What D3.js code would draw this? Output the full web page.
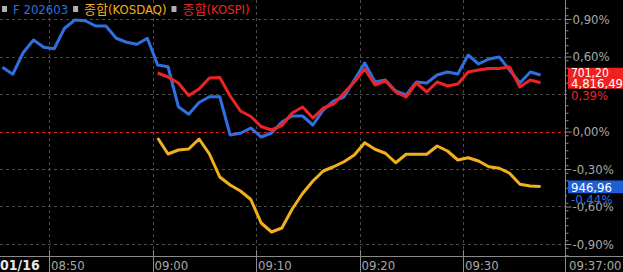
<!DOCTYPE html>
<html><head><meta charset="utf-8">
<script src="https://cdn.jsdelivr.net/npm/d3@7"></script>
<style>
html,body{margin:0;padding:0;background:#000;}
svg{display:block;}
text{font-family:'Liberation Sans Narrow','DejaVu Sans Condensed','Noto Sans CJK KR',sans-serif;}
</style></head>
<body><svg id="c" width="623" height="272"></svg>
<script>
// ---- data (percent change) ----
const times = ["08:45","08:46","08:47","08:48","08:49","08:50","08:51","08:52","08:53","08:54",
"08:55","08:56","08:57","08:58","08:59","09:00","09:01","09:02","09:03","09:04",
"09:05","09:06","09:07","09:08","09:09","09:10","09:11","09:12","09:13","09:14",
"09:15","09:16","09:17","09:18","09:19","09:20","09:21","09:22","09:23","09:24",
"09:25","09:26","09:27","09:28","09:29","09:30","09:31","09:32","09:33","09:34",
"09:35","09:36","09:37"];
const futures = [0.514,0.458,0.630,0.732,0.674,0.662,0.826,0.892,0.886,0.844,
0.844,0.746,0.714,0.698,0.746,0.532,0.518,0.198,0.138,0.232,
0.278,0.278,-0.028,-0.014,0.028,-0.044,-0.012,0.076,0.124,0.124,
0.052,0.172,0.244,0.276,0.412,0.548,0.396,0.412,0.324,0.292,
0.396,0.388,0.452,0.476,0.460,0.612,0.540,0.580,0.596,0.492,
0.388,0.476,0.452];
const kospi = [null,null,null,null,null,null,null,null,null,null,
null,null,null,null,null,0.468,0.436,0.388,0.288,0.340,
0.428,0.432,0.284,0.164,0.120,0.040,0.012,0.048,0.148,0.196,
0.108,0.188,0.220,0.308,0.396,0.500,0.372,0.404,0.316,0.276,
0.388,0.316,0.396,0.364,0.380,0.476,0.492,0.504,0.504,0.516,
0.356,0.412,0.390];
const kosdaq = [null,null,null,null,null,null,null,null,null,null,
null,null,null,null,null,-0.052,-0.180,-0.148,-0.140,-0.060,
-0.180,-0.364,-0.428,-0.476,-0.544,-0.732,-0.804,-0.772,-0.620,-0.496,
-0.396,-0.316,-0.282,-0.242,-0.188,-0.090,-0.142,-0.174,-0.250,-0.182,
-0.182,-0.182,-0.116,-0.156,-0.228,-0.210,-0.236,-0.282,-0.294,-0.334,
-0.422,-0.436,-0.440];
const yTicks = [0.9,0.6,0.3,0,-0.3,-0.6,-0.9];
const yTickLabelsShown = [0.9,0.6,0,-0.3,-0.6,-0.9]; // 0.30% label is covered by the KOSPI % tag
const xTickLabels = ["08:50","09:00","09:10","09:20","09:30"];
const legendItems = [{name:"F 202603",c:"#2f6fe0"},{name:"종합(KOSDAQ)",c:"#f2b01c"},{name:"종합(KOSPI)",c:"#ee2424"}];
const lastFutures = "701,20", lastKospi = "4,816,49", lastKospiPct = "0,39%", lastKosdaq = "946,96", lastKosdaqPct = "-0,44%", lastTime = "09:37:00", dateLabel = "01/16";

// ---- scales ----
const parse = d3.timeParse("%H:%M");
const svg = d3.select("#c");
const axisX = 565, plotBottom = 256;
const x = d3.scaleTime().domain([parse("08:50"), parse("09:30")]).range([49, 463]);
const y = d3.scaleLinear().domain([-0.9, 0.9]).range([244, 19]);
const tx = t => x(new Date(parse(t).getTime() + 30000));
const loc = d3.formatLocale({decimal:",", thousands:".", grouping:[3], currency:["",""], minus:"-"});
const fmt = v => loc.format(".2f")(v) + "%";

// ---- grid ----
const grid = svg.append("g");
grid.selectAll("line.h").data(yTicks.filter(v => v !== 0)).join("line")
  .attr("x1", 0).attr("x2", axisX).attr("y1", d => Math.round(y(d)) + 0.5).attr("y2", d => Math.round(y(d)) + 0.5)
  .attr("stroke", "#4c4c4c").attr("stroke-dasharray", "3,3");
grid.selectAll("line.v").data(xTickLabels).join("line")
  .attr("x1", d => Math.round(x(parse(d))) + 0.5).attr("x2", d => Math.round(x(parse(d))) + 0.5)
  .attr("y1", 0).attr("y2", plotBottom)
  .attr("stroke", "#4c4c4c").attr("stroke-dasharray", "3,3");
grid.append("line").attr("x1", 0).attr("x2", axisX).attr("y1", Math.round(y(0)) + 0.5).attr("y2", Math.round(y(0)) + 0.5)
  .attr("stroke", "#d02020").attr("stroke-dasharray", "3,3");

// ---- lines ----
function drawLine(vals, color) {
  const pts = times.map((t, i) => ({t, v: vals[i]}));
  svg.append("path").datum(pts)
    .attr("fill", "none").attr("stroke", color).attr("stroke-width", 3).attr("stroke-linejoin", "round")
    .attr("d", d3.line().defined(d => d.v != null).x(d => tx(d.t)).y(d => y(d.v)));
}
drawLine(kosdaq, "#f2b01c");
drawLine(futures, "#2f6fe0");
drawLine(kospi, "#ee2424");

// ---- right axis ----
const yr = svg.append("g").attr("transform", `translate(${axisX + 0.5},0)`);
const minor = d3.range(-0.99, 1.0, 0.06).map(v => +v.toFixed(2));
yr.call(d3.axisRight(y).tickValues(minor).tickSize(3).tickFormat(""))
  .call(g => g.select(".domain").remove())
  .call(g => g.selectAll("line").attr("stroke", "#8a8a8a"));
const yr2 = svg.append("g").attr("transform", `translate(${axisX + 0.5},0)`);
yr2.call(d3.axisRight(y).tickValues(yTicks).tickSize(6).tickPadding(1).tickFormat(d => yTickLabelsShown.includes(d) ? fmt(d) : ""))
  .call(g => g.select(".domain").remove())
  .call(g => g.selectAll("line").attr("stroke", "#8a8a8a"))
  .call(g => g.selectAll("text").attr("fill", "#a8a8a8").attr("font-size", 13)
     .attr("font-family", "'Liberation Sans Narrow','DejaVu Sans Condensed',sans-serif"));
svg.append("line").attr("x1", axisX + 0.5).attr("x2", axisX + 0.5).attr("y1", 0).attr("y2", 272).attr("stroke", "#8a8a8a");

// ---- bottom axis ----
svg.append("line").attr("x1", 0).attr("x2", 623).attr("y1", plotBottom + 0.5).attr("y2", plotBottom + 0.5).attr("stroke", "#8a8a8a");
const xb = svg.append("g");
xb.selectAll("line").data(xTickLabels).join("line")
  .attr("x1", d => Math.round(x(parse(d))) + 0.5).attr("x2", d => Math.round(x(parse(d))) + 0.5)
  .attr("y1", 250).attr("y2", 272).attr("stroke", "#8a8a8a");
xb.selectAll("text").data(xTickLabels).join("text")
  .attr("x", d => x(parse(d)) + 2).attr("y", 270).attr("fill", "#a8a8a8").attr("font-size", 13).text(d => d);
svg.append("text").attr("x", axisX + 4).attr("y", 270).attr("fill", "#a8a8a8").attr("font-size", 13).text(lastTime);
svg.append("text").attr("x", 0).attr("y", 270).attr("fill", "#e8e8e8").attr("font-size", 14).attr("font-weight", "bold").text(dateLabel);

// ---- legend ----
const lg = svg.append("g");
let lx = 2;
legendItems.forEach(it => {
  lg.append("rect").attr("x", lx).attr("y", 6).attr("width", 5).attr("height", 6).attr("fill", "#b0b0b0");
  const t = lg.append("text").attr("x", lx + 11).attr("y", 14).attr("fill", it.c).attr("font-size", 13).text(it.name);
  lx += 11 + t.node().getComputedTextLength() + 5;
});

// ---- end labels ----
const lastV = kospi[kospi.length - 1];
const ky = y(lastV);
svg.append("rect").attr("x", axisX + 2).attr("y", ky + 6).attr("width", 56).attr("height", 13).attr("fill", "#000");
svg.append("text").attr("x", axisX + 6).attr("y", ky + 17).attr("fill", "#ee2424").attr("font-size", 13).text(lastKospiPct);
svg.append("clipPath").attr("id", "cb").append("rect").attr("x", axisX + 3).attr("y", ky - 15).attr("width", 60).attr("height", 21);
svg.append("rect").attr("x", axisX + 3).attr("y", ky - 15).attr("width", 60).attr("height", 21).attr("fill", "#ee2020");
svg.append("text").attr("clip-path", "url(#cb)").attr("x", axisX + 6).attr("y", ky - 6).attr("fill", "#fff").attr("font-size", 12).text(lastFutures);
svg.append("text").attr("x", axisX + 6).attr("y", ky + 5).attr("fill", "#fff").attr("font-size", 13).text(lastKospi);

const dv = kosdaq[kosdaq.length - 1];
const dy = y(dv);
svg.append("rect").attr("x", axisX + 3).attr("y", dy - 6).attr("width", 60).attr("height", 13).attr("fill", "#1f5fd6");
svg.append("text").attr("x", axisX + 6).attr("y", dy + 5).attr("fill", "#fff").attr("font-size", 13).text(lastKosdaq);
svg.append("rect").attr("x", axisX + 2).attr("y", dy + 7).attr("width", 56).attr("height", 9).attr("fill", "#000");
svg.append("text").attr("x", axisX + 6).attr("y", dy + 17).attr("fill", "#2f6fe0").attr("font-size", 13).text(lastKosdaqPct);
</script></body></html>
